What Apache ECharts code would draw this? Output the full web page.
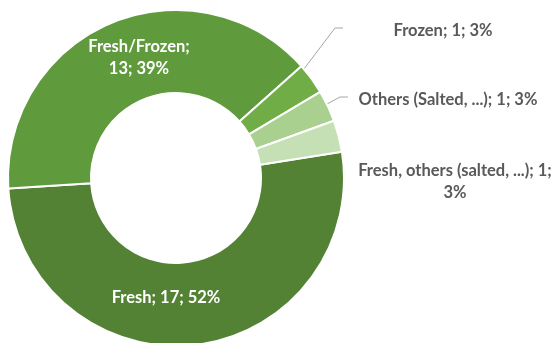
<!DOCTYPE html>
<html>
<head>
<meta charset="utf-8">
<script src="https://cdn.jsdelivr.net/npm/echarts@6/dist/echarts.min.js"></script>
<style>
  html, body { margin: 0; padding: 0; background: #ffffff; }
  #chart { width: 556px; height: 343px; }
</style>
</head>
<body>
<div id="chart"></div>
<script>
// Product forms and how many entries fall in each
const categories = ['Fresh', 'Fresh/Frozen', 'Frozen', 'Others (Salted, ...)', 'Fresh, others (salted, ...)'];
const counts = [17, 13, 1, 1, 1];
const sliceColors = ['#548235', '#5f9a3c', '#70ad47', '#a9d08e', '#c5e0b4'];
// where a label breaks onto its second line
const wrapAfter = ['', 'name', '', '', 'value'];

// ring geometry (px)
const CX = 176, CY = 178, R_IN = 85, R_OUT = 168, START_ANGLE = 9;
const R_MID = (R_IN + R_OUT) / 2;

// label centres; outside labels also get the end of their leader line
const labelSpots = [
  { x: 166, y: 298 },
  { x: 139, y: 58 },
  { x: 443, y: 31, lineEnd: [343, 28] },
  { x: 448, y: 100, lineEnd: [348, 97] },
  { x: 455, y: 182, lineEnd: [345, 181] }
];

const total = counts.reduce((a, b) => a + b, 0);

function midAngle(i) {
  let before = 0;
  for (let k = 0; k < i; k++) before += counts[k];
  return (START_ANGLE - 360 * (before + counts[i] / 2) / total) * Math.PI / 180;
}

function labelText(p) {
  const pct = Math.round(p.percent) + '%';
  const w = wrapAfter[p.dataIndex];
  if (w === 'name') return p.name + ';\n' + p.value + '; ' + pct;
  if (w === 'value') return p.name + '; ' + p.value + ';\n' + pct;
  return p.name + '; ' + p.value + '; ' + pct;
}

const insideLabel = {
  position: 'inside',
  color: '#ffffff',
  fontFamily: 'Lato',
  fontWeight: 'bold',
  fontSize: 16.5,
  lineHeight: 22
};
const outsideLabel = {
  position: 'outside',
  color: '#595959',
  fontFamily: 'Lato',
  fontWeight: 'bold',
  fontSize: 16.5,
  lineHeight: 22
};

const seriesData = categories.map((name, i) => ({
  name: name,
  value: counts[i],
  itemStyle: { color: sliceColors[i] },
  label: i < 2 ? insideLabel : outsideLabel,
  labelLine: { show: i >= 2 }
}));

const chart = echarts.init(document.getElementById('chart'), null, { renderer: 'canvas' });
chart.setOption({
  backgroundColor: '#ffffff',
  animation: false,
  series: [{
    type: 'pie',
    center: [CX, CY],
    radius: [R_IN, R_OUT],
    startAngle: START_ANGLE,
    clockwise: true,
    avoidLabelOverlap: false,
    itemStyle: { borderColor: '#ffffff', borderWidth: 2 },
    label: { show: true, formatter: labelText },
    labelLine: { lineStyle: { color: '#a6a6a6', width: 1 } },
    emphasis: { disabled: true },
    labelLayout: function (params) {
      const i = params.dataIndex;
      const spot = labelSpots[i];
      const out = { x: spot.x, y: spot.y, align: 'center', verticalAlign: 'middle' };
      if (spot.lineEnd) {
        const a = midAngle(i);
        const start = [CX + R_MID * Math.cos(a), CY - R_MID * Math.sin(a)];
        const bend = [spot.lineEnd[0] - 8, spot.lineEnd[1]];
        out.labelLinePoints = [start, bend, spot.lineEnd];
      }
      return out;
    },
    data: seriesData
  }]
});
</script>
</body>
</html>
